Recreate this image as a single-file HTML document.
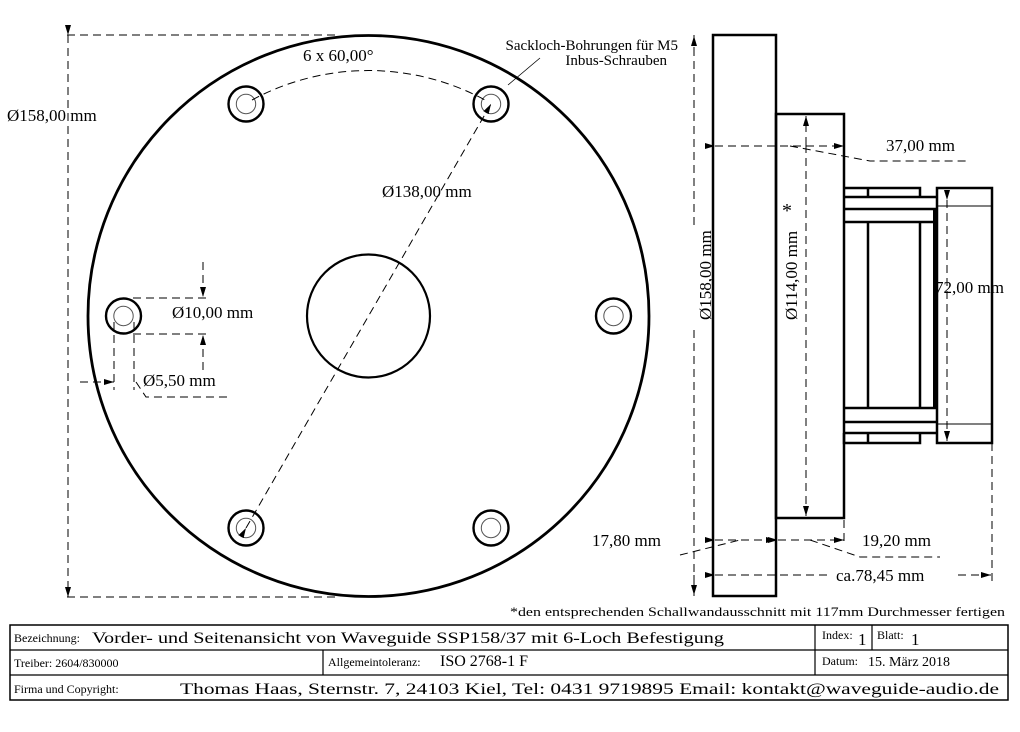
<!DOCTYPE html>
<html><head><meta charset="utf-8"><style>
html,body{margin:0;padding:0;background:#fff;}
svg{display:block;font-family:"Liberation Serif",serif;}
</style></head><body>
<svg width="1020" height="732" viewBox="0 0 1020 732" xmlns="http://www.w3.org/2000/svg">
<defs>
<marker id="a" viewBox="0 0 10 6" refX="10" refY="3" markerWidth="10" markerHeight="6" markerUnits="userSpaceOnUse" orient="auto"><path d="M0,0 L10,3 L0,6 z" fill="#000"/></marker>
</defs>
<rect width="1020" height="732" fill="#fff"/>
<g fill="none" stroke="#000">
<circle cx="368.5" cy="316" r="280.5" stroke-width="2.8"/>
<circle cx="368.5" cy="316" r="61.5" stroke-width="2.2"/>
<g stroke-width="2.4">
<circle cx="246" cy="104" r="17.5"/><circle cx="491" cy="104" r="17.5"/>
<circle cx="123.5" cy="316" r="17.5"/><circle cx="613.5" cy="316" r="17.5"/>
<circle cx="246" cy="528" r="17.5"/><circle cx="491" cy="528" r="17.5"/>
</g>
<g stroke-width="1" stroke="#555">
<circle cx="246" cy="104" r="9.7"/><circle cx="491" cy="104" r="9.7"/>
<circle cx="123.5" cy="316" r="9.7"/><circle cx="613.5" cy="316" r="9.7"/>
<circle cx="246" cy="528" r="9.7"/><circle cx="491" cy="528" r="9.7"/>
</g>
<g stroke-dasharray="8,5" stroke-width="1">
<path d="M67,35 H340"/><path d="M67,597 H340"/>
<path d="M68,35 V597" marker-start="url(#a)" marker-end="url(#a)"/>
<path d="M252,100 A245,245 0 0 1 485,100"/>
<path d="M246,528 L491,104" marker-start="url(#a)" marker-end="url(#a)"/>
<path d="M133,298 H210"/><path d="M133,334 H210"/>
<path d="M203,262 V297" marker-end="url(#a)"/><path d="M203,370 V335" marker-end="url(#a)"/>
<path d="M114,322 V390"/><path d="M134,322 V390"/>
<path d="M80,382 H114" marker-end="url(#a)"/>
<path d="M136,382 L146,397 H230"/>
</g>
<path d="M540,58 L508,85" stroke-width="0.8"/>
<g stroke-width="2.5">
<rect x="713" y="35" width="63" height="561"/>
<rect x="776" y="114" width="68" height="404"/>
<path d="M844,188 H920 V197 M868,188 V197"/>
<path d="M844,197 H937 M844,209 H937 M844,222 H937"/>
<path d="M868,222 V408 M920,222 V408"/>
<path d="M844,408 H937 M844,422 H937 M844,433 H937"/>
<path d="M844,433 V443 H920 V433 M868,433 V443"/>
<rect x="937" y="188" width="55" height="255"/>
</g>
<path d="M935,209 V408" stroke-width="4"/>
<path d="M937,206 H992 M937,424 H992" stroke-width="1"/>
<g stroke-dasharray="8,5" stroke-width="1">
<path d="M694,35 V225"/><path d="M694,330 V596"/>
<path d="M694,55 V36" marker-end="url(#a)"/><path d="M694,575 V595" marker-end="url(#a)"/>
<path d="M806,145 V116" marker-end="url(#a)"/><path d="M806,145 V516" marker-end="url(#a)"/>
<path d="M715,146 H844" marker-start="url(#a)" marker-end="url(#a)"/>
<path d="M790,146 L870,161 H966"/>
<path d="M947,200 V441" marker-start="url(#a)" marker-end="url(#a)"/>
<path d="M844,520 V545"/><path d="M992,443 V582"/>
<path d="M715,540 H776" marker-start="url(#a)" marker-end="url(#a)"/>
<path d="M778,540 H844" marker-start="url(#a)" marker-end="url(#a)"/>
<path d="M680,555 L740,540"/>
<path d="M810,540 L860,557 H940"/>
<path d="M715,575 H830" marker-start="url(#a)"/>
<path d="M958,575 H991" marker-end="url(#a)"/>
</g>
<rect x="10" y="625" width="998" height="75" stroke-width="1.5"/>
<path d="M10,650 H1008 M10,675 H1008 M815,625 V675 M872,625 V650 M323,650 V675" stroke-width="1.2"/>
</g>
<g fill="#000">
<text x="7" y="121" font-size="17">Ø158,00 mm</text>
<text x="303" y="61" font-size="17">6 x 60,00°</text>
<text x="678" y="50" font-size="15" text-anchor="end">Sackloch-Bohrungen für M5</text>
<text x="667" y="65" font-size="15" text-anchor="end">Inbus-Schrauben</text>
<text x="382" y="197" font-size="17">Ø138,00 mm</text>
<text x="172" y="318" font-size="17">Ø10,00 mm</text>
<text x="143" y="386" font-size="17">Ø5,50 mm</text>
<text transform="translate(711,320) rotate(-90)" font-size="17">Ø158,00 mm</text>
<text transform="translate(797,320) rotate(-90)" font-size="17">Ø114,00 mm</text>
<text x="782" y="217" font-size="20">*</text>
<text x="886" y="151" font-size="17">37,00 mm</text>
<text x="935" y="293" font-size="17">72,00 mm</text>
<text x="862" y="546" font-size="17">19,20 mm</text>
<text x="592" y="546" font-size="17">17,80 mm</text>
<text x="836" y="581" font-size="17">ca.78,45 mm</text>
<text x="1005" y="616" font-size="13" text-anchor="end" textLength="495" lengthAdjust="spacingAndGlyphs">*den entsprechenden Schallwandausschnitt mit 117mm Durchmesser fertigen</text>
<text x="14" y="642" font-size="12">Bezeichnung:</text>
<text x="92" y="643" font-size="16" textLength="632" lengthAdjust="spacingAndGlyphs">Vorder- und Seitenansicht von Waveguide SSP158/37 mit 6-Loch Befestigung</text>
<text x="822" y="639" font-size="12">Index:</text><text x="858" y="645" font-size="17">1</text>
<text x="877" y="639" font-size="12">Blatt:</text><text x="911" y="645" font-size="17">1</text>
<text x="14" y="667" font-size="12">Treiber: 2604/830000</text>
<text x="328" y="666" font-size="12">Allgemeintoleranz:</text>
<text x="440" y="666" font-size="16">ISO 2768-1 F</text>
<text x="822" y="665" font-size="12">Datum:</text>
<text x="868" y="666" font-size="14">15. März 2018</text>
<text x="14" y="693" font-size="12">Firma und Copyright:</text>
<text x="180" y="694" font-size="16" textLength="819" lengthAdjust="spacingAndGlyphs">Thomas Haas,   Sternstr. 7,   24103 Kiel,   Tel: 0431 9719895   Email: kontakt@waveguide-audio.de</text>
</g>
</svg>
</body></html>
